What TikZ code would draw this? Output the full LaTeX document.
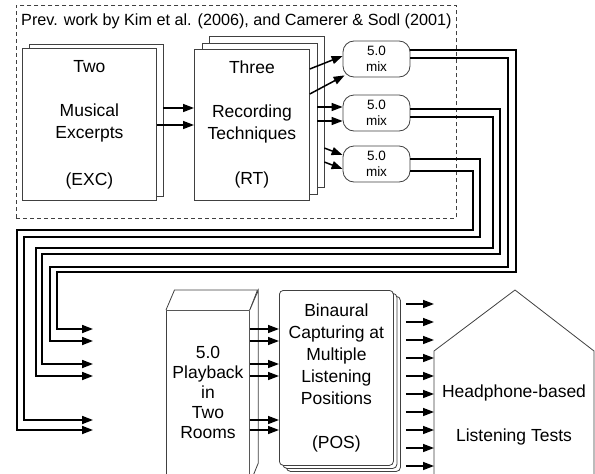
\documentclass[tikz,border=0pt]{standalone}
\usepackage{fontspec}
\setmainfont{Liberation Sans}
\usetikzlibrary{arrows.meta}

\begin{document}
\begin{tikzpicture}
[x=1pt,y=-1pt,
doc/.style={draw=black!75,line width=0.8pt,fill=white,inner sep=0pt,align=center,font=\fontsize{17.5}{22}\selectfont},
mixbox/.style={doc,rounded corners=11pt,minimum width=67pt,minimum height=36pt,font=\fontsize{13.5}{16.5}\selectfont},
lbl/.style={align=center,inner sep=0pt,font=\fontsize{17.5}{22}\selectfont},
feed/.style={line width=1.7pt,-{Triangle[length=11pt,width=8pt]}},
arr/.style={line width=1.5pt,-{Triangle[length=11pt,width=8pt]}}]
\useasboundingbox (0,0) rectangle (595,474);
\clip (0,0) rectangle (595,474);

% previous work
\node[draw=black!75,line width=0.7pt,dash pattern=on 4pt off 3pt,minimum width=440pt,minimum height=213pt,anchor=north west] (prev) at (16,5) {};
\node[anchor=west,inner sep=0pt,font=\fontsize{16.2}{19}\selectfont] (title) at (21,21) {Prev. work by Kim et al. (2006), and Camerer \& Sodl (2001)};

\node[doc,minimum width=134pt,minimum height=152pt,anchor=north west] (exc2) at (28.5,43.5) {};
\node[doc,minimum width=134pt,minimum height=152pt,anchor=north west] (exc) at (22,48) {Two\\[22pt]Musical\\Excerpts\\[25pt](EXC)};

\node[doc,minimum width=115pt,minimum height=151pt,anchor=north west] (rt3) at (208.5,36) {};
\node[doc,minimum width=115pt,minimum height=151pt,anchor=north west] (rt2) at (201.5,42.5) {};
\node[doc,minimum width=115pt,minimum height=151pt,anchor=north west] (rt) at (194,49) {Three\\[22pt]Recording\\Techniques\\[23pt](RT)};

\node[mixbox] (m1) at (376.5,59) {5.0\\mix};
\node[mixbox] (m2) at (376.5,113) {5.0\\mix};
\node[mixbox] (m3) at (376.5,164) {5.0\\mix};

\draw[arr] (exc2.east |- 0,108) -- (rt.west |- 0,108);
\draw[arr] (exc.east |- 0,125) -- (rt.west |- 0,125);
\draw[arr] (rt.east |- 0,69) -- ([yshift=3pt]m1.west);
\draw[arr] (rt.east |- 0,94) -- ([shift={(2pt,2pt)}]m1.south west);
\draw[arr] (rt2.east |- 0,107) -- (m2.west |- 0,107);
\draw[arr] (rt2.east |- 0,121) -- (m2.west |- 0,121);
\draw[arr] (rt3.east |- 0,148) -- ([yshift=9pt]m3.west);
\draw[arr] (rt3.east |- 0,162) -- ([yshift=-5pt]m3.west);

% 5.0 mixes to playback
\coordinate (in1) at (93,329);
\coordinate (in2) at (93,341);
\coordinate (in3) at (93,364);
\coordinate (in4) at (93,376);
\coordinate (in5) at (93,420);
\coordinate (in6) at (93,430);
\draw[feed] ([yshift=9pt]m1.east) -| (516,272) -| (57,329) -- (in1);
\draw[feed] ([yshift=1pt]m1.east) -| (508,267) -| (50,341) -- (in2);
\draw[feed] ([yshift=4pt]m2.east) -| (500,254) -| (42,364) -- (in3);
\draw[feed] ([yshift=-4pt]m2.east) -| (493,248) -| (36,376) -- (in4);
\draw[feed] ([yshift=5pt]m3.east) -| (480,237) -| (24,420) -- (in5);
\draw[feed] ([yshift=-7pt]m3.east) -| (473,230) -| (17,430) -- (in6);

% playback
\node[doc,minimum width=83pt,minimum height=173pt,anchor=north west] (play) at (166,310) {};
\draw[doc] (play.north west) -- ++(8.5,-20) -- ++(83,0) -- (play.north east);
\draw[doc] (play.north east) -- ++(8.5,-20) -- ++(0,173) -- (play.south east);
\node[lbl,font=\fontsize{17.5}{20}\selectfont] (playtxt) at (208,392) {5.0\\Playback\\in\\Two\\Rooms};

% binaural capturing
\node[doc,rounded corners=4pt,minimum width=114pt,minimum height=175pt,anchor=north west] (pos3) at (286,296) {};
\node[doc,rounded corners=4pt,minimum width=114pt,minimum height=175pt,anchor=north west] (pos2) at (282.5,293) {};
\node[doc,rounded corners=4pt,minimum width=114pt,minimum height=175pt,anchor=north west] (pos) at (279,290) {Binaural\\Capturing at\\Multiple\\Listening\\Positions\\[22pt](POS)};

\path[arr] (play.east |- in1) edge (pos.west |- in1)
(play.east |- in2) edge (pos.west |- in2)
(play.east |- in3) edge (pos.west |- in3)
(play.east |- in4) edge (pos.west |- in4)
(play.east |- in5) edge (pos.west |- in5)
(play.east |- in6) edge (pos.west |- in6);

% listening tests
\draw[doc] (434,480) -- (434,351) -- (515,290) -- (594,351) -- (594,480);
\coordinate (hw) at (434,351);
\node[lbl] (tests) at (514,415) {Headphone-based\\[22pt]Listening Tests};

\path[arr,shorten <=5pt] (pos3.east |- 0,304) edge (hw |- 0,304)
(pos3.east |- 0,322) edge (hw |- 0,322)
(pos3.east |- 0,340) edge (hw |- 0,340)
(pos3.east |- 0,358) edge (hw |- 0,358)
(pos3.east |- 0,376) edge (hw |- 0,376)
(pos3.east |- 0,394) edge (hw |- 0,394)
(pos3.east |- 0,412) edge (hw |- 0,412)
(pos3.east |- 0,430) edge (hw |- 0,430)
(pos3.east |- 0,448) edge (hw |- 0,448)
(pos3.east |- 0,466) edge (hw |- 0,466);
\end{tikzpicture}
\end{document}
